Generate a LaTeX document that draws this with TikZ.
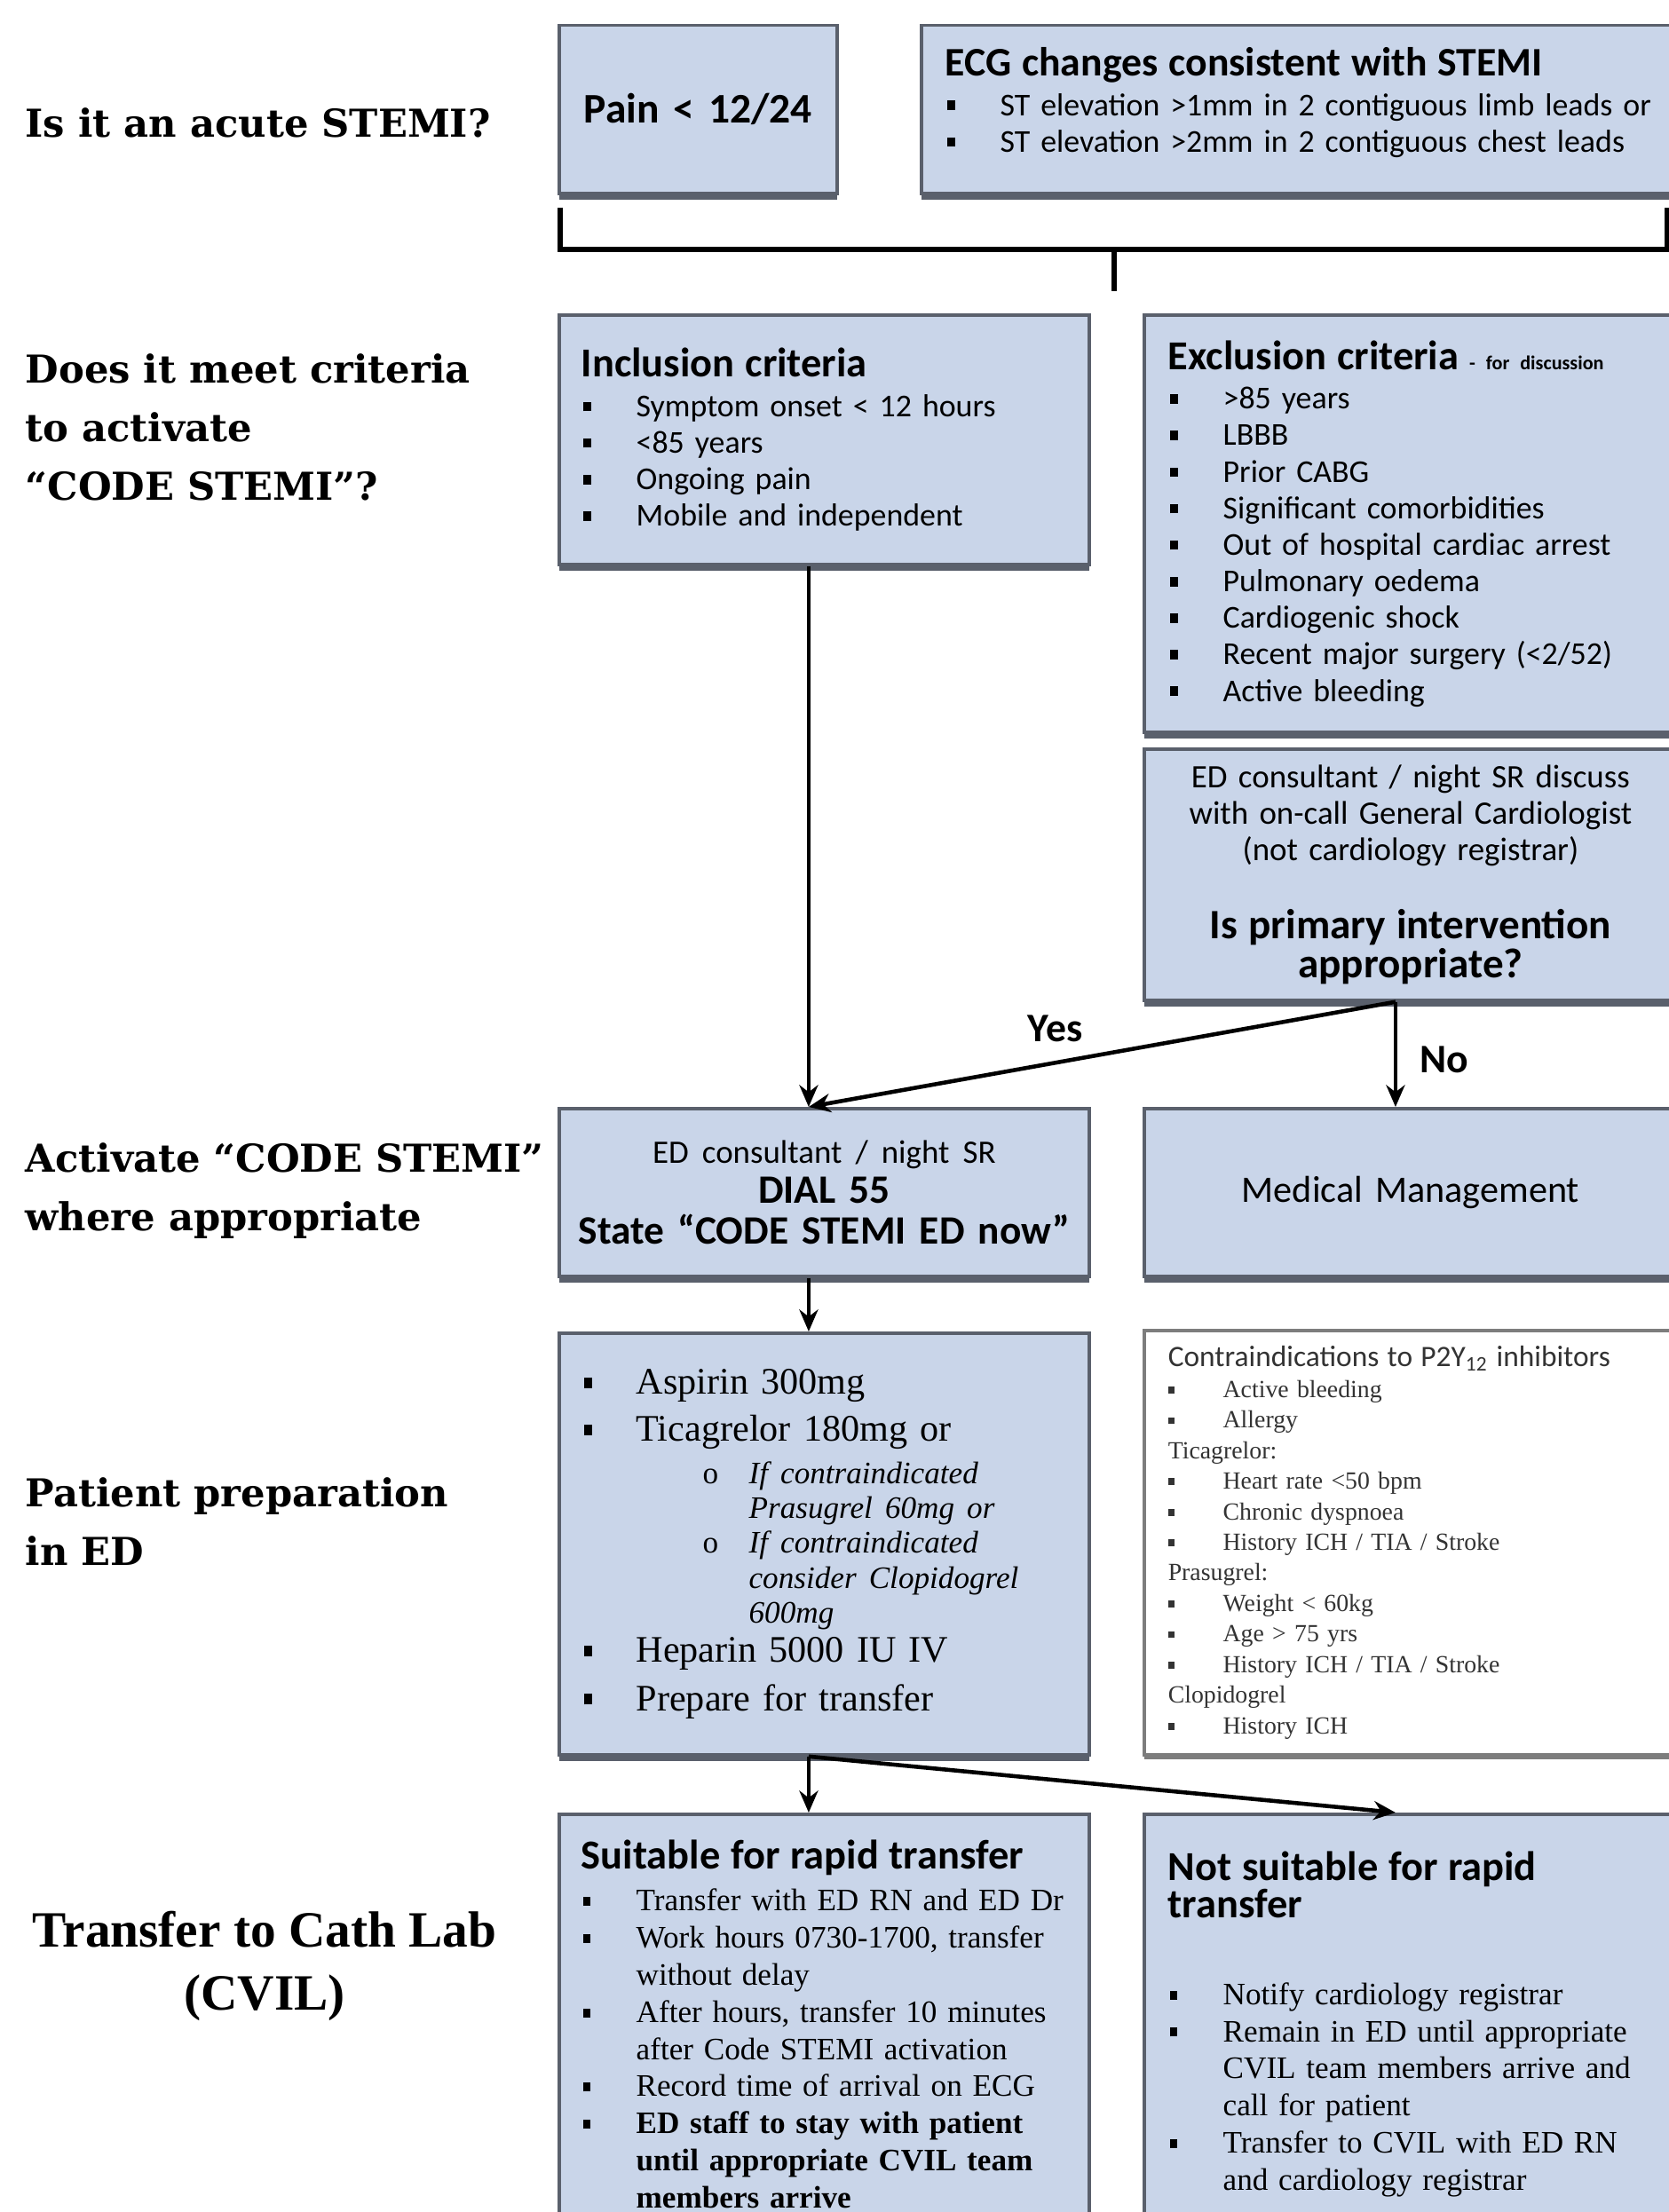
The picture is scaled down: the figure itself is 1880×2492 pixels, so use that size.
\documentclass[tikz,border=0pt]{standalone}
\usepackage{fontspec}
\setmainfont{Carlito}
\newfontfamily\askfont{DejaVu Serif}
\newfontfamily\romfont{Liberation Serif}
\usetikzlibrary{arrows.meta,positioning,shadows}
\definecolor{boxfill}{RGB}{201,213,233}
\definecolor{boxline}{RGB}{90,96,108}
\definecolor{contraline}{RGB}{125,125,125}
\newcommand\boxtitle{\normalfont\fontsize{13.2}{14}\selectfont\bfseries}
\newcommand\dotb{\rule[0.35ex]{0.5ex}{0.62ex}}
\newcommand\bitem[2][17.6pt]{\makebox[#1][l]{\hspace*{0.15ex}\dotb}#2}
\newcommand\bcont[2][17.6pt]{\hspace*{#1}#2}
\newcommand\optitem[1]{{\fontsize{10}{11}\selectfont\hspace*{38.9pt}\makebox[14.8pt][l]{o}\textit{#1}}}
\newcommand\optcont[1]{{\fontsize{10}{11}\selectfont\hspace*{53.7pt}\textit{#1}}}
\newcommand\sqitem[1]{\makebox[17.6pt][l]{\rule[0.35ex]{0.6ex}{0.6ex}}#1}
\newcommand\flowbox[5][box]{
  \node[#1, minimum height=#3] (#4) at (#2) {#5};
}

\begin{document}
\begin{tikzpicture}[x=0.01cm, y=-0.01cm,
    boxbase/.style={
      line width=1pt,
      anchor=north west,
      minimum width=5.97cm,
      text width=5.47cm,
      inner xsep=0.25cm,
      inner ysep=0pt,
      align=left,
      font={\fontsize{10.2}{11.7}\selectfont}
    },
    box/.style={boxbase, draw=boxline, fill=boxfill,
      drop shadow={shadow xshift=0pt, shadow yshift=-2pt, fill=boxline, opacity=1}},
    whitebox/.style={boxbase, draw=contraline, fill=white,
      drop shadow={shadow xshift=0pt, shadow yshift=-1.5pt, fill=contraline, opacity=1}},
    rightcol/.style={minimum width=6cm, text width=5.46cm, inner xsep=0.27cm},
    ask/.style={font={\askfont\bfseries\fontsize{12.3}{18.8}\selectfont},
      align=left, anchor=west, inner sep=0pt},
    arr/.style={-{Stealth[length=7pt,width=6pt]}, line width=1.3pt},
    bracket/.style={line width=1.5pt},
    answer/.style={font={\bfseries\fontsize{13}{14}\selectfont}, inner sep=0pt}
  ]
  \useasboundingbox (0,0) rectangle (1880,2492);
  \fill[white] (0,0) rectangle (1880,2492);

  % questions
  \node[ask] (q1) at (28,138) {Is it an acute STEMI?};
  \node[ask] (q2) at (28,481) {Does it meet criteria\\to activate\\“CODE STEMI”?};
  \node[ask] (q3) at (28,1342) {Activate “CODE STEMI”\\where appropriate};
  \node[ask] (q4) at (28,1714) {Patient preparation\\in ED};
  \node[ask, anchor=center, align=center,
    font={\romfont\bfseries\fontsize{16.3}{20}\selectfont}] (q5) at (298,2215) {Transfer to Cath Lab\\(CVIL)};

  % acute stemi
  \flowbox[box, minimum width=3.13cm, text width=2.9cm, inner xsep=0.115cm, align=center,
    font={\bfseries\fontsize{13.5}{16}\selectfont}]{628,27}{1.89cm}{pain}{Pain < 12/24}
  \flowbox[box, minimum width=8.7cm, text width=8.16cm, inner xsep=0.27cm]{1036,27}{1.89cm}{ecg}{%
    {\boxtitle\fontsize{13}{14}\selectfont ECG changes consistent with STEMI}\\[1pt]
    \bitem{ST elevation >1mm in 2 contiguous limb leads or}\\
    \bitem{ST elevation >2mm in 2 contiguous chest leads}\rule[-0.22cm]{0pt}{0pt}}

  % criteria
  \flowbox{628,353}{2.81cm}{incl}{%
    {\boxtitle Inclusion criteria}\\[1pt]
    \bitem{Symptom onset < 12 hours}\\
    \bitem{<85 years}\\
    \bitem{Ongoing pain}\\
    \bitem{Mobile and independent}}
  \flowbox[box, rightcol]{1287,353}{4.70cm}{excl}{%
    {\boxtitle Exclusion criteria}{\bfseries\fontsize{6.3}{7}\selectfont\ - for discussion}\\[1pt]
    \bitem{>85 years}\\
    \bitem{LBBB}\\
    \bitem{Prior CABG}\\
    \bitem{Significant comorbidities}\\
    \bitem{Out of hospital cardiac arrest}\\
    \bitem{Pulmonary oedema}\\
    \bitem{Cardiogenic shock}\\
    \bitem{Recent major surgery (<2/52)}\\
    \bitem{Active bleeding}}
  \flowbox[box, rightcol, align=center, font={\fontsize{10.5}{11.7}\selectfont}]{1287,842}{2.83cm}{disc}{%
    ED consultant / night SR discuss\\
    with on-call General Cardiologist\\
    (not cardiology registrar)\\[11pt]
    {\bfseries\fontsize{13.4}{14}\selectfont Is primary intervention\\[0.7pt] appropriate?}}

  % code stemi
  \flowbox[box, align=center, text width=5.77cm, inner xsep=0.1cm,
    font={\bfseries\fontsize{12.9}{13}\selectfont}]{628,1247}{1.89cm}{act}{%
    {\mdseries\fontsize{10.5}{12}\selectfont ED consultant / night SR}\\
    DIAL 55\\
    State “CODE STEMI ED now”}
  \flowbox[box, rightcol, align=center, font={\fontsize{12}{14}\selectfont}]{1287,1247}{1.89cm}{med}{Medical Management}

  % preparation
  \flowbox[box, font={\romfont\fontsize{12}{15}\selectfont}]{628,1500}{4.75cm}{prep}{%
    \bitem{Aspirin 300mg}\\
    \bitem{Ticagrelor 180mg or}\\[-1.5pt]
    \optitem{If contraindicated}\\[-3.8pt]
    \optcont{Prasugrel 60mg or}\\[-3.8pt]
    \optitem{If contraindicated}\\[-3.8pt]
    \optcont{consider Clopidogrel}\\[-3.8pt]
    \optcont{600mg}\\[-2.5pt]
    \bitem{Heparin 5000 IU IV}\\[0.5pt]
    \bitem{Prepare for transfer}}
  \flowbox[whitebox, rightcol, text=black!80,
    font={\romfont\fontsize{7.9}{9.8}\selectfont}]{1287,1497}{4.78cm}{contra}{%
    {\normalfont\fontsize{9.5}{9.8}\selectfont Contraindications to P2Y\textsubscript{12} inhibitors}\\
    \sqitem{Active bleeding}\\
    \sqitem{Allergy}\\
    Ticagrelor:\\
    \sqitem{Heart rate <50 bpm}\\
    \sqitem{Chronic dyspnoea}\\
    \sqitem{History ICH / TIA / Stroke}\\
    Prasugrel:\\
    \sqitem{Weight < 60kg}\\
    \sqitem{Age > 75 yrs}\\
    \sqitem{History ICH / TIA / Stroke}\\
    Clopidogrel\\
    \sqitem{History ICH}}

  % transfer
  \flowbox[box, font={\romfont\fontsize{10}{11.9}\selectfont}]{628,2042}{4.73cm}{suit}{%
    {\boxtitle Suitable for rapid transfer}\\[1.5pt]
    \bitem{Transfer with ED RN and ED Dr}\\
    \bitem{Work hours 0730-1700, transfer}\\
    \bcont{without delay}\\
    \bitem{After hours, transfer 10 minutes}\\
    \bcont{after Code STEMI activation}\\
    \bitem{Record time of arrival on ECG}\\
    \bitem{\textbf{ED staff to stay with patient}}\\
    \bcont{\textbf{until appropriate CVIL team}}\\
    \bcont{\textbf{members arrive}}}
  \flowbox[box, rightcol, font={\romfont\fontsize{10}{11.9}\selectfont}]{1287,2042}{4.73cm}{nots}{%
    {\boxtitle Not suitable for rapid\\ transfer}\\[16pt]
    \bitem{Notify cardiology registrar}\\
    \bitem{Remain in ED until appropriate}\\
    \bcont{CVIL team members arrive and}\\
    \bcont{call for patient}\\
    \bitem{Transfer to CVIL with ED RN}\\
    \bcont{and cardiology registrar}}

  % bracket under row 1
  \coordinate (bracetip) at (1255,328);
  \draw[bracket] (631,234) |- (1255,281) -| (1878,234);
  \draw[bracket] (1255,281) -- (bracetip);

  % arrows
  \coordinate (actin) at ([xshift=-0.175cm]act.north);
  \coordinate (split) at ([xshift=-0.17cm]disc.south);
  \coordinate (prepin) at ([xshift=-0.175cm]prep.north);
  \coordinate (prepout) at ([xshift=-0.175cm]prep.south);
  \draw[arr] (incl.south -| actin) -- (actin);
  \draw[arr] (split) -- node[answer, pos=0.58, yshift=0.38cm] (yes) {Yes} (actin);
  \draw[arr] (split) -- node[answer, pos=0.55, right=0.25cm] (no) {No} (split |- med.north);
  \draw[arr] (act.south -| prepin) -- (prepin);
  \draw[arr] (prepout) -- (prepout |- suit.north);
  \draw[arr] (prepout) -- ([xshift=-0.17cm]nots.north);
\end{tikzpicture}
\end{document}
